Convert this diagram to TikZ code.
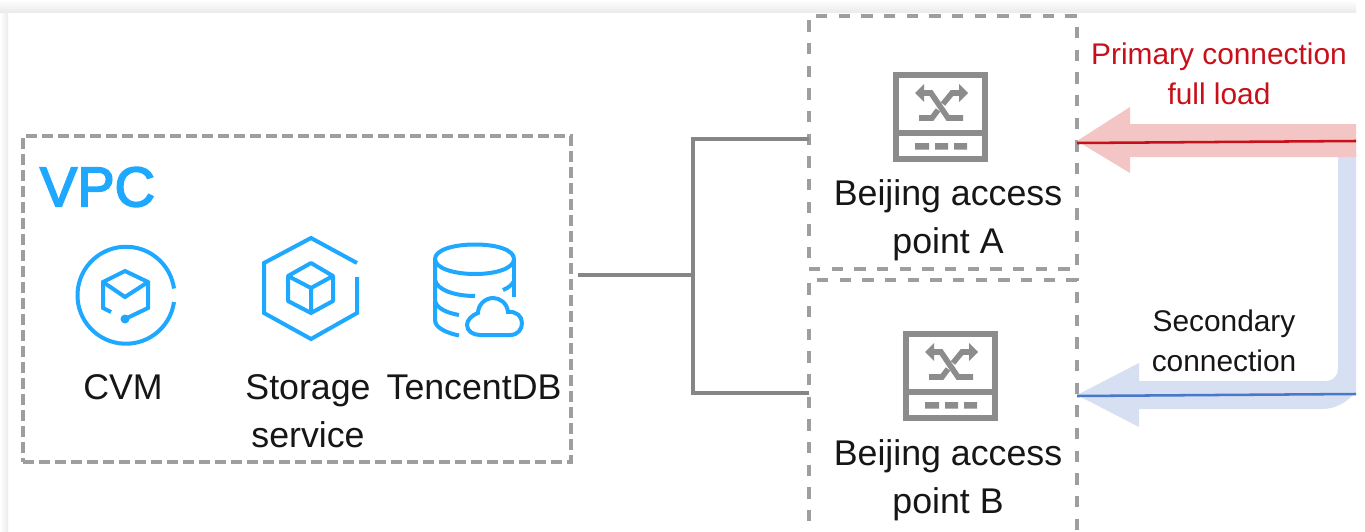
\documentclass[tikz,border=0pt]{standalone}
\usepackage{fontspec}
\setmainfont{Liberation Sans}
\newfontfamily\vpcfont[FakeBold=3]{Liberation Sans}
\definecolor{dashgray}{HTML}{9E9E9E}
\definecolor{linegray}{HTML}{868686}
\definecolor{icongray}{HTML}{8C8C8C}
\definecolor{iconblue}{HTML}{1FA8FF}
\definecolor{ink}{HTML}{161616}
\definecolor{redband}{HTML}{F3C5C4}
\definecolor{redline}{HTML}{C8101A}
\definecolor{blueband}{HTML}{D6E0F2}
\definecolor{blueline}{HTML}{4A78C8}
\definecolor{shadow}{HTML}{EBEBEB}
\newcommand{\switchicon}{%
  \draw[swline,line width=4.5pt] (896,75) rectangle (985,159);
  \draw[swline,line width=3.9pt] (896,133) -- (985,133);
  \fill[icongray] (915,143) rectangle (929,149.5) (935,143) rectangle (948,149.5) (954,143) rectangle (967,149.5);
  \draw[swline,line width=4.2pt] (922,93) -- (931,93) -- (948,118) -- (963,118);
  \draw[swline,line width=4.2pt] (961,93) -- (952,93) -- (943,104);
  \draw[swline,line width=4.2pt] (919,118) -- (932,118) -- (938,110);
  \fill[icongray] (915,93) -- (924,84) -- (924,102) -- cycle;
  \fill[icongray] (968,93) -- (959,84) -- (959,102) -- cycle;
}
\tikzset{
  vpcbox/.style={draw=dashgray,line width=2.3pt,dash pattern=on 8pt off 4pt,inner sep=0pt,minimum width=411pt,minimum height=244.5pt},
  apbox/.style={draw=dashgray,line width=2.3pt,dash pattern=on 8.5pt off 8.5pt,inner sep=0pt,minimum width=201pt},
  lbl/.style={text=ink,align=center,inner sep=0pt,font=\fontsize{26.8}{36}\selectfont},
  smalllbl/.style={align=center,inner sep=0pt,font=\fontsize{22.4}{30}\selectfont},
  blueicon/.style={draw=iconblue,line width=3pt,line join=miter},
  swline/.style={draw=icongray},
  conn/.style={draw=linegray,line width=2.4pt},
}
\begin{document}
\begin{tikzpicture}[x=0.75pt,y=-0.75pt]
\useasboundingbox (0,0) rectangle (1365,532);
\fill[white] (0,0) rectangle (1365,532);
\shade[left color=white,right color=shadow] (0,12) rectangle (8,532);
\shade[top color=white,bottom color=shadow] (0,0) rectangle (1356,12);

% boxes
\node[vpcbox] (vpc) at (297,299) {};
\node[apbox,minimum height=189.75pt] (apA) at (943,142.5) {};
\node[apbox,minimum height=190.5pt] (apB) at (943,407) {};

% connectors
\coordinate (vport) at (578,275);
\coordinate (junc) at (693,275);
\coordinate (aport) at (809,139);
\coordinate (bport) at (809,393);
\draw[conn] (vport) -- (junc);
\draw[conn] (aport) -- (693,139) -- (693,393) -- (bport);

% blue band
\fill[blueband] (1338,150) -- (1338,369) .. controls (1338,376) and (1333,381) .. (1326,381)
  -- (1139,381) -- (1139,363) -- (1077,395) -- (1139,427) -- (1139,409) -- (1322,409)
  .. controls (1336,409) and (1348,402) .. (1356,391) -- (1356,150) -- cycle;
% red band
\fill[redband] (1356,124) -- (1130,124) -- (1130,107) -- (1077,141) -- (1130,173) -- (1130,157) -- (1356,157) -- cycle;
\coordinate (rend) at (1356,141);
\coordinate (rtip) at (1077,143);
\coordinate (bend) at (1356,394);
\coordinate (btip) at (1077,396);
\draw[redline,line width=1.9pt] (rend) -- (rtip);
\draw[blueline,line width=1.9pt] (bend) -- (btip);

% icons
\switchicon
\begin{scope}[shift={(10,259)}]\switchicon\end{scope}

% CVM icon
\draw[blueicon] (174,302) arc[start angle=8,end angle=352,radius=48.5];
\draw[blueicon] (111,312) -- (103,308) -- (103,282) -- (125,271) -- (148,282) -- (148,308) -- (125,319);
\draw[blueicon] (103,282) -- (125,297) -- (148,282);
\fill[iconblue] (125,319) circle[radius=4.5];

% storage icon
\draw[blueicon] (357,263) -- (311,238) -- (264,263) -- (264,313) -- (311,339) -- (357,313) -- (357,277);
\draw[blueicon,line join=round] (311,263) -- (288,276) -- (288,301) -- (311,313) -- (333,301) -- (333,276) -- cycle;
\draw[blueicon] (288,276) -- (311,288) -- (333,276) (311,288) -- (311,313);

% DB icon
\draw[blueicon] (435,259) .. controls (435,250) and (453,244.5) .. (475,244.5) .. controls (497,244.5) and (514,250) .. (514,259) .. controls (514,268) and (497,274) .. (475,274) .. controls (453,274) and (435,268) .. (435,259) -- cycle;
\draw[blueicon] (435,259) -- (435,320) .. controls (435,328) and (447,333) .. (459,335.5);
\draw[blueicon] (514,259) -- (514,297);
\draw[blueicon] (435,280) .. controls (437,290) and (455,296) .. (475,296);
\draw[blueicon] (435,301) .. controls (437,309) and (448,313) .. (459,315);
\draw[blueicon] (514,281) .. controls (512,285) and (508,288) .. (503,290);
\draw[blueicon] (480,335) -- (510,335) .. controls (518,335) and (522,329) .. (522,323) .. controls (522,316) and (516,311) .. (508,312) .. controls (507,303) and (500,298) .. (493,298) .. controls (485,298) and (478,305) .. (478,313) .. controls (472,315) and (467,320) .. (467,325) .. controls (467,331) and (473,335) .. (480,335) -- cycle;

% labels
\node[text=iconblue,inner sep=0pt,font=\vpcfont\fontsize{42}{42}\selectfont] (vpclabel) at (97.5,187) {VPC};
\node[lbl] (cvm) at (123,387) {CVM};
\node[lbl] (storage) at (308,411) {Storage\\service};
\node[lbl] (tdb) at (474,387) {TencentDB};
\node[lbl] (alabel) at (948,220) {Beijing access\\point A};
\node[lbl] (blabel) at (948,480) {Beijing access\\point B};
\node[smalllbl,text=redline] (primary) at (1219,74) {Primary connection\\full load};
\node[smalllbl,text=ink] (secondary) at (1224,341) {Secondary\\connection};
\end{tikzpicture}
\end{document}
